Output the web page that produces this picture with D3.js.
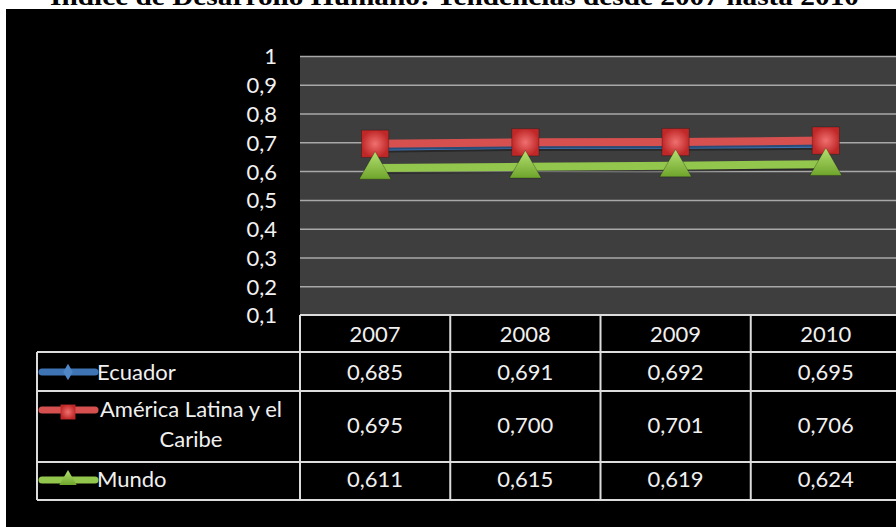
<!DOCTYPE html>
<html>
<head>
<meta charset="utf-8">
<script src="https://cdn.jsdelivr.net/npm/d3@7"></script>
<style>
  body { margin: 0; background: #fff; }
  svg { display: block; }
</style>
</head>
<body>
<svg></svg>
<script>
// chart values
var years = ["2007", "2008", "2009", "2010"];
var ecuador = [0.685, 0.691, 0.692, 0.695];
var america = [0.695, 0.700, 0.701, 0.706];
var mundo = [0.611, 0.615, 0.619, 0.624];
var yTicks = [0.1, 0.2, 0.3, 0.4, 0.5, 0.6, 0.7, 0.8, 0.9, 1];
var seriesNames = ["Ecuador", "América Latina y el Caribe", "Mundo"];
var titleText = "Índice de Desarrollo Humano: Tendencias desde 2007 hasta 2010";

var width = 896, height = 527;
var plotLeft = 300, plotRight = 901, plotTop = 56, plotBottom = 315;
var font = "Lato, 'Open Sans', sans-serif";

var svg = d3.select("svg").attr("width", width).attr("height", height);

var es = d3.formatLocale({decimal: ",", thousands: ".", grouping: [3], currency: ["", ""]});
var fmt3 = es.format(".3f");
var fmtTick = function(v) { return v === 1 ? "1" : es.format(".1f")(v); };

var x = d3.scaleBand().domain(years).range([plotLeft, plotRight]).padding(0);
var y = d3.scaleLinear().domain([0.1, 1]).range([plotBottom, plotTop]);

// title (cut off at the top, like the source image)
svg.append("text")
    .attr("x", 50).attr("y", 5)
    .attr("textLength", 809).attr("lengthAdjust", "spacingAndGlyphs")
    .style("font-family", "'Liberation Serif', 'Times New Roman', serif")
    .style("font-weight", "bold").style("font-size", "26px")
    .text(titleText);

// black panel
svg.append("rect").attr("x", 6).attr("y", 9).attr("width", width - 6).attr("height", height - 9).attr("fill", "#000");

// plot area
svg.append("rect")
    .attr("x", plotLeft).attr("y", plotTop)
    .attr("width", plotRight - plotLeft).attr("height", plotBottom - plotTop)
    .attr("fill", "#3e3e3e");

// gridlines
var grid = svg.append("g")
    .attr("transform", "translate(" + plotLeft + ",0)")
    .call(d3.axisLeft(y).tickValues(yTicks.slice(1)).tickSize(-(plotRight - plotLeft)).tickFormat(""));
grid.select(".domain").remove();
grid.selectAll("line").attr("stroke", "#a8a8a8").attr("stroke-width", 1.5);

// y axis labels
var yAxis = svg.append("g")
    .attr("transform", "translate(277,0)")
    .call(d3.axisLeft(y).tickValues(yTicks).tickSize(0).tickPadding(0).tickFormat(fmtTick));
yAxis.select(".domain").remove();
yAxis.selectAll("text")
    .attr("fill", "#f2f2f2").attr("dy", "0.36em")
    .style("font-family", font).style("font-size", "22px");

// gradients for markers
var defs = svg.append("defs");
var sq = defs.append("radialGradient").attr("id", "sqGrad");
sq.append("stop").attr("offset", "0%").attr("stop-color", "#f07070");
sq.append("stop").attr("offset", "100%").attr("stop-color", "#c02828");
var tr = defs.append("linearGradient").attr("id", "trGrad").attr("x1", 0).attr("y1", 0).attr("x2", 0).attr("y2", 1);
tr.append("stop").attr("offset", "0%").attr("stop-color", "#b4e070");
tr.append("stop").attr("offset", "100%").attr("stop-color", "#6fa52c");

var series = [
  {name: seriesNames[0], values: ecuador, color: "#3f74b4", marker: d3.symbolDiamond, fill: "#4f86c6", size: 260},
  {name: seriesNames[1], values: america, color: "#d65050", marker: d3.symbolSquare, fill: "url(#sqGrad)", size: 740},
  {name: seriesNames[2], values: mundo, color: "#93c64c", marker: d3.symbolTriangle, fill: "url(#trGrad)", size: 440}
];

var line = d3.line()
    .x(function(d, i) { return x(years[i]) + x.bandwidth() / 2; })
    .y(function(d) { return y(d); });

// lines with a faint shadow
series.forEach(function(s) {
  svg.append("path").datum(s.values)
      .attr("d", line).attr("transform", "translate(0,2)")
      .attr("fill", "none").attr("stroke", "#000").attr("stroke-opacity", 0.35).attr("stroke-width", 8);
  svg.append("path").datum(s.values)
      .attr("d", line)
      .attr("fill", "none").attr("stroke", s.color).attr("stroke-width", 8);
});

// markers
series.forEach(function(s) {
  svg.selectAll(null).data(s.values).enter()
      .append("path")
      .attr("d", d3.symbol().type(s.marker).size(s.size))
      .attr("transform", function(d, i) {
        var dy = s.marker === d3.symbolTriangle ? 2 : 0;
        return "translate(" + (x(years[i]) + x.bandwidth() / 2) + "," + (y(d) + dy) + ")";
      })
      .attr("fill", s.fill)
      .attr("stroke", "rgba(0,0,0,0.25)").attr("stroke-width", 1);
});

// data table
var rowLines = [315, 352, 391, 462, 500];
var tableLeft = 37;
var tbl = svg.append("g");
var border = "#dcdcdc";

tbl.selectAll(".hline").data(rowLines).enter().append("line")
    .attr("x1", function(d, i) { return i === 0 ? plotLeft : tableLeft; })
    .attr("x2", width)
    .attr("y1", function(d) { return d; }).attr("y2", function(d) { return d; })
    .attr("stroke", border).attr("stroke-width", 2);

var vcols = [plotLeft].concat(years.slice(1).map(function(yr) { return x(yr); }));
tbl.selectAll(".vline").data(vcols).enter().append("line")
    .attr("x1", function(d) { return d; }).attr("x2", function(d) { return d; })
    .attr("y1", rowLines[0]).attr("y2", rowLines[4])
    .attr("stroke", border).attr("stroke-width", 2);
tbl.append("line")
    .attr("x1", tableLeft).attr("x2", tableLeft)
    .attr("y1", rowLines[1]).attr("y2", rowLines[4])
    .attr("stroke", border).attr("stroke-width", 2);

function cellText(xp, yp, txt, anchor) {
  tbl.append("text")
      .attr("x", xp).attr("y", yp)
      .attr("text-anchor", anchor || "middle")
      .attr("fill", "#f0f0f0")
      .style("font-family", font).style("font-size", "22px")
      .text(txt);
}

// header years
years.forEach(function(yr) { cellText(x(yr) + x.bandwidth() / 2, 342, yr); });

// value rows
var rowBase = [380, 433, 487];
series.forEach(function(s, r) {
  s.values.forEach(function(v, i) {
    cellText(x(years[i]) + x.bandwidth() / 2, rowBase[r], fmt3(v));
  });
});

// row labels
cellText(97, 380, "Ecuador", "start");
cellText(191, 417, "América Latina y el");
cellText(191, 447, "Caribe");
cellText(97, 487, "Mundo", "start");

// legend keys
var keyY = [372, 410, 480];
series.forEach(function(s, r) {
  tbl.append("line")
      .attr("x1", 42).attr("x2", 95)
      .attr("y1", keyY[r]).attr("y2", keyY[r])
      .attr("stroke", s.color).attr("stroke-width", 7).attr("stroke-linecap", "round");
  tbl.append("path")
      .attr("d", d3.symbol().type(s.marker).size(s.size * 0.3))
      .attr("transform", "translate(68," + (keyY[r] + (s.marker === d3.symbolSquare ? 2 : 0)) + ")")
      .attr("fill", s.fill);
});
</script>
</body>
</html>
